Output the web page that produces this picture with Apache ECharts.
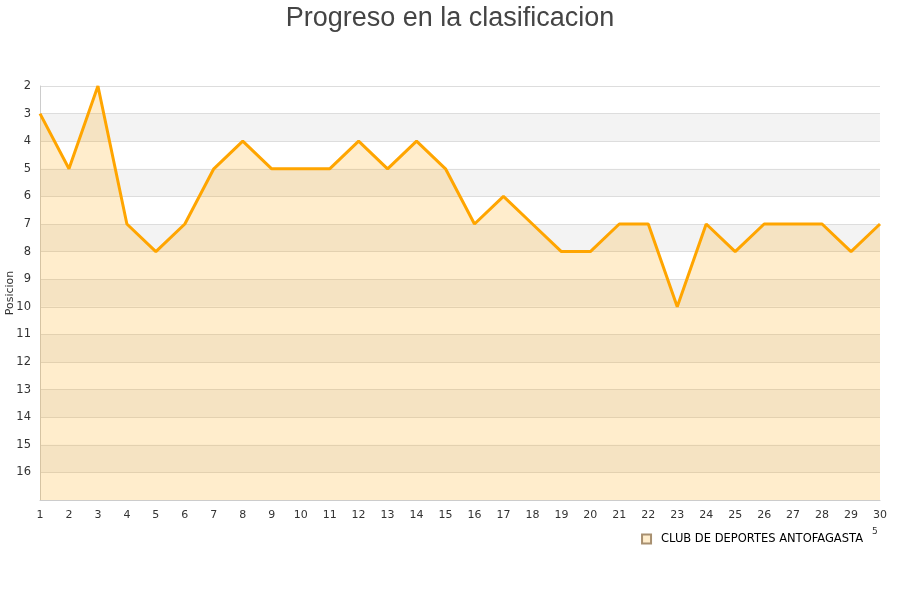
<!DOCTYPE html>
<html>
<head>
<meta charset="utf-8">
<script src="https://cdn.jsdelivr.net/npm/echarts@6/dist/echarts.min.js"></script>
<style>html,body{margin:0;padding:0;background:#fff}#c{width:900px;height:600px}</style>
</head>
<body>
<div id="c"></div>
<script>
var jornadas = ['1','2','3','4','5','6','7','8','9','10','11','12','13','14','15','16','17','18','19','20','21','22','23','24','25','26','27','28','29','30'];
var posiciones = [3,5,2,7,8,7,5,4,5,5,5,4,5,4,5,7,6,7,8,8,7,7,10,7,8,7,7,7,8,7];
var equipo = 'CLUB DE DEPORTES ANTOFAGASTA';
var titulo = 'Progreso en la clasificacion';
var ejeY = 'Posicion';

var chart = echarts.init(document.getElementById('c'));
chart.setOption({
  backgroundColor: '#fff',
  animation: false,
  title: {
    text: titulo, left: 'center', top: 0,
    textStyle: { fontFamily: 'Liberation Sans, Arial', fontSize: 27, fontWeight: 'normal', color: '#444' }
  },
  legend: {
    data: [equipo], right: 32, top: 528, itemWidth: 9, itemHeight: 9, itemGap: 10,
    icon: 'rect',
    textStyle: { fontFamily: 'DejaVu Sans', fontSize: 11.5, color: '#000', padding: [0, 0, 0, 5] }
  },
  grid: { left: 40, right: 20, top: 86, bottom: 100, containLabel: false, outerBoundsMode: 'none' },
  xAxis: {
    type: 'category', data: jornadas, boundaryGap: false,
    axisLine: { lineStyle: { color: '#ccc' } },
    axisTick: { show: false },
    axisLabel: { color: '#333', fontFamily: 'DejaVu Sans', fontSize: 11, margin: 10, interval: 0 },
    splitLine: { show: false }
  },
  yAxis: {
    type: 'value', inverse: true, min: 2, max: 17, interval: 1,
    axisLine: { show: true, lineStyle: { color: '#ccc' } },
    axisTick: { show: false },
    axisLabel: {
      color: '#333', fontFamily: 'DejaVu Sans', fontSize: 11.5, margin: 9,
      formatter: function (v) { return v === 17 ? '' : String(v); }
    },
    splitLine: { show: true, lineStyle: { color: '#ddd' } },
    splitArea: { show: true, areaStyle: { color: ['#ffffff', '#f3f3f3'] } }
  },
  series: [{
    name: equipo, type: 'line', data: posiciones,
    symbol: 'none',
    lineStyle: { color: '#FFA500', width: 3 },
    itemStyle: { color: '#FFEDCC', borderColor: '#a89070', borderWidth: 1 },
    areaStyle: { color: 'rgba(255,165,0,0.2)', opacity: 1, origin: 'end' }
  }],
  graphic: [{
    type: 'text', x: 10, y: 293, rotation: Math.PI / 2,
    style: { text: ejeY, fontFamily: 'DejaVu Sans', fontSize: 11, fill: '#333', textAlign: 'center', textVerticalAlign: 'middle' }
  }, {
    type: 'text', left: 872, top: 527,
    style: { text: '5', fontFamily: 'DejaVu Sans', fontSize: 9, fill: '#333' }
  }]
});
</script>
</body>
</html>
